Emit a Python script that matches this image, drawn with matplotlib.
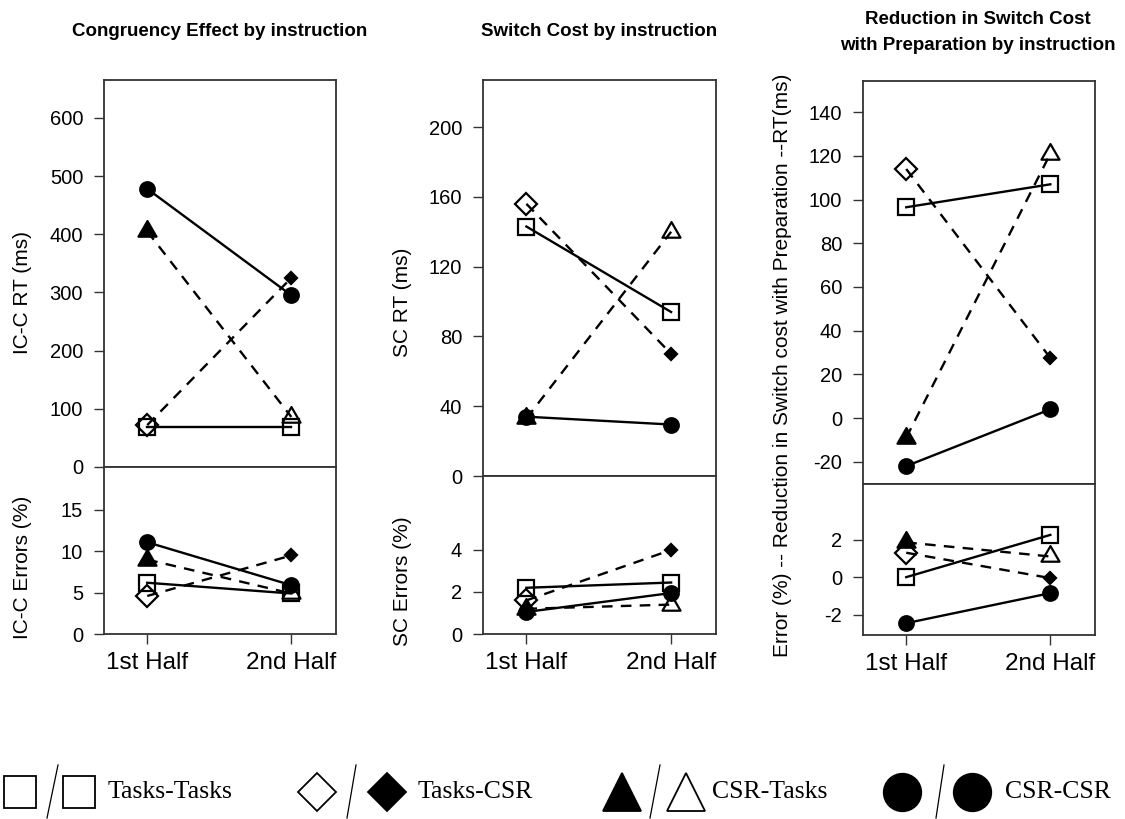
import numpy as np
import matplotlib.pyplot as plt
from matplotlib.path import Path

plt.rcParams["font.family"] = ["Liberation Sans", "DejaVu Sans"]
plt.rcParams["axes.unicode_minus"] = False

halves = ["1st Half", "2nd Half"]
groups = ["Tasks-Tasks", "Tasks-CSR", "CSR-Tasks", "CSR-CSR"]

# rows follow groups: Tasks-Tasks, Tasks-CSR, CSR-Tasks, CSR-CSR ; columns follow halves
congruency_rt = [[68, 68], [72, 325], [405, 86], [478, 295]]
congruency_err = [[6.2, 4.9], [4.6, 9.5], [9.0, 4.9], [11.1, 5.9]]
switch_rt = [[143, 94], [156, 70], [33, 140], [34, 29.5]]
switch_err = [[2.2, 2.45], [1.6, 4.0], [1.2, 1.4], [1.05, 1.95]]
prep_rt = [[96.5, 107], [114, 27.5], [-9, 121], [-22, 4]]
prep_err = [[0.0, 2.25], [1.3, -0.05], [1.85, 1.1], [-2.45, -0.85]]

W, H = 1125, 819
fig = plt.figure(figsize=(W / 100, H / 100), dpi=100)

SPINE = "#333333"

# equilateral triangle centred on its circumcentre
tri = Path([(0, 1), (-0.866, -0.5), (0.866, -0.5), (0, 1)],
           [Path.MOVETO, Path.LINETO, Path.LINETO, Path.CLOSEPOLY])

# (marker, filled, size) for first half / second half
styles = [
    (("s", False, 11), ("s", False, 11)),
    (("D", False, 11.5), ("D", True, 6.5)),
    ((tri, True, 15), (tri, False, 15)),
    (("o", True, 10.5), ("o", True, 10.5)),
]
line_styles = ["-", (0, (4.5, 3.5)), (0, (4.5, 3.5)), "-"]


def px_axes(left, right, top, bottom):
    return fig.add_axes([left / W, 1 - bottom / H, (right - left) / W, (bottom - top) / H])


def draw_groups(ax, data):
    x = np.arange(1, len(halves) + 1)
    for vals, st, ls in zip(data, styles, line_styles):
        ax.plot(x, vals, color="black", lw=1.7, ls=ls, zorder=2)
        for xi, v, (m, filled, ms) in zip(x, vals, st):
            ax.plot(xi, v, marker=m, ms=ms, mew=1.6, mec="black",
                    mfc="black" if filled else "none", ls="none", zorder=3)


def style_axes(ax, lower):
    for sp in ax.spines.values():
        sp.set_color(SPINE)
        sp.set_linewidth(1.3)
    ax.set_xlim(0.7, 2.31)
    ax.tick_params(axis="y", labelsize=14.5, length=7, width=1, colors=SPINE,
                   labelcolor="black", pad=8)
    if lower:
        ax.set_xticks([1, 2])
        ax.set_xticklabels(halves)
        ax.tick_params(axis="x", labelsize=17.5, length=7, width=1, colors=SPINE,
                       labelcolor="black", pad=6)
    else:
        ax.set_xticks([])


panels = [
    dict(rt=congruency_rt, err=congruency_err, box=(104, 336, 80, 467, 634),
         rt_lim=(0, 665), rt_ticks=range(0, 601, 100),
         err_lim=(0, 20.2), err_ticks=[0, 5, 10, 15]),
    dict(rt=switch_rt, err=switch_err, box=(483, 716, 80, 476, 634),
         rt_lim=(0, 227), rt_ticks=range(0, 201, 40),
         err_lim=(0, 7.52), err_ticks=[0, 2, 4]),
    dict(rt=prep_rt, err=prep_err, box=(863, 1095, 81, 484, 635),
         rt_lim=(-30.2, 154.3), rt_ticks=range(-20, 141, 20),
         err_lim=(-3.08, 4.96), err_ticks=[-2, 0, 2]),
]

for p in panels:
    left, right, top, mid, bottom = p["box"]
    ax_rt = px_axes(left, right, top, mid)
    ax_err = px_axes(left, right, mid, bottom)
    draw_groups(ax_rt, p["rt"])
    draw_groups(ax_err, p["err"])
    style_axes(ax_rt, False)
    style_axes(ax_err, True)
    ax_rt.set_ylim(*p["rt_lim"])
    ax_rt.set_yticks(list(p["rt_ticks"]))
    ax_err.set_ylim(*p["err_lim"])
    ax_err.set_yticks(p["err_ticks"])

# titles and axis labels in figure pixels
def ftext(x, y, s, **kw):
    fig.text(x / W, 1 - y / H, s, **kw)


tkw = dict(ha="center", va="center", fontsize=13.5, fontweight="bold")
ftext(220, 31, "Congruency Effect by instruction", **tkw)
ftext(599, 31, "Switch Cost by instruction", **tkw)
ftext(978, 20, "Reduction in Switch Cost", **tkw)
ftext(978, 46, "with Preparation by instruction", **tkw)

lkw = dict(ha="center", va="center", rotation=90, fontsize=15)
ftext(23, 293, "IC-C RT (ms)", **lkw)
ftext(23, 567, "IC-C Errors (%)", **lkw)
ftext(403, 302, "SC RT (ms)", **lkw)
ftext(403, 581, "SC Errors (%)", **lkw)
ftext(783, 365, "Error (%) -- Reduction in Switch cost with Preparation --RT(ms)", **lkw)

# legend row along the bottom
leg = fig.add_axes([0, 0, 1, 1])
leg.set_xlim(0, W)
leg.set_ylim(H, 0)
leg.axis("off")
leg.patch.set_alpha(0)

leg_y = 792
leg_items = [
    # first marker x, slash (top x, bottom x), second marker x, text x
    (20, (58, 47), 79, 108),
    (317, (356, 347), 387, 418),
    (622, (660, 650), 686, 712),
    (902, (944, 936), 972, 1005),
]
leg_markers = [
    (("s", False, 23), ("s", False, 23)),
    (("D", False, 19), ("D", True, 19)),
    (("^", True, 28), ("^", False, 28)),
    (("o", True, 27), ("o", True, 27)),
]
for (x1, (sx0, sx1), x2, tx), mk, name in zip(leg_items, leg_markers, groups):
    for xm, (m, filled, ms) in zip((x1, x2), mk):
        leg.plot(xm, leg_y, marker=m, ms=ms, mew=1.3, mec="black",
                 mfc="black" if filled else "white", ls="none")
    leg.plot([sx0, sx1], [765, 818], color="black", lw=0.9)
    leg.text(tx, leg_y, name, ha="left", va="center", fontsize=18.5,
             family=["Liberation Serif", "DejaVu Serif"])

fig.savefig("out.png", dpi=100)
